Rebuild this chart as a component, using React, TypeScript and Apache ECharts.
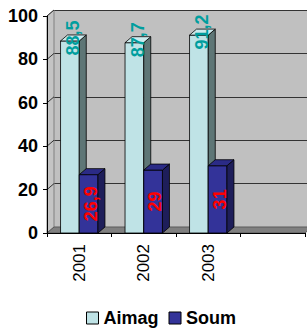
import React, { useEffect, useRef } from "react";
import * as echarts from "echarts";

const categories = ["2001", "2002", "2003", ""];
const aimagValues = [88.5, 87.7, 91.2];
const soumValues = [26.9, 29, 31];
const yTicks = [0, 20, 40, 60, 80, 100];

const FONT = "'Liberation Sans', Arial, Helvetica, sans-serif";
const DX = 7;
const DY = -6;

const AIMAG = { front: "#BFE3E6", side: "#5E7676", top: "#CDEBEE", label: "#009E9E" };
const SOUM = { front: "#333399", side: "#1E1E5A", top: "#2B2B86", label: "#FF0000" };

function fmt(v: number) {
  return String(v).replace(".", ",");
}

function barRenderer(kind: "a" | "s") {
  const c = kind === "a" ? AIMAG : SOUM;
  return (params: any, api: any) => {
    const i = api.value(0);
    const v = api.value(1);
    const top = api.coord([i, v]);
    const base = api.coord([i, 0]);
    const band = api.size([1, 0])[0];
    const bw = band * 0.29;
    const x0 = kind === "a" ? top[0] - bw : top[0];
    const x1 = x0 + bw;
    const yT = top[1];
    const yB = base[1];
    const stroke = { stroke: "#000", lineWidth: 0.8 };
    const children: any[] = [
      {
        type: "polygon",
        shape: { points: [[x0, yB], [x1, yB], [x1, yT], [x0, yT]] },
        style: { fill: c.front, ...stroke },
      },
      {
        type: "polygon",
        shape: { points: [[x1, yB], [x1 + DX, yB + DY], [x1 + DX, yT + DY], [x1, yT]] },
        style: { fill: c.side, ...stroke },
      },
      {
        type: "polygon",
        shape: { points: [[x0, yT], [x1, yT], [x1 + DX, yT + DY], [x0 + DX, yT + DY]] },
        style: { fill: c.top, ...stroke },
      },
    ];
    const lx = kind === "a" ? (x0 + x1) / 2 + DX / 2 : (x0 + x1) / 2 + 2;
    const ly = kind === "a" ? yT + DY / 2 : (yT + yB) / 2;
    children.push({
      type: "text",
      x: lx,
      y: ly,
      rotation: Math.PI / 2,
      z2: 10,
      style: {
        text: fmt(v),
        fill: c.label,
        font: `bold 18px ${FONT}`,
        align: "center",
        verticalAlign: "middle",
      },
    });
    return { type: "group", children };
  };
}

function frameRenderer(params: any, api: any) {
  const cs = params.coordSys;
  const x = cs.x, y = cs.y, w = cs.width, h = cs.height;
  const children: any[] = [
    {
      type: "polygon",
      shape: { points: [[x, y + h], [x + DX, y + h + DY], [x + DX, y + DY], [x, y]] },
      style: { fill: "#C4C4C4", stroke: "#808080", lineWidth: 1 },
    },
    {
      type: "polygon",
      shape: { points: [[x, y + h], [x + w, y + h], [x + w + DX, y + h + DY], [x + DX, y + h + DY]] },
      style: { fill: "#808080", stroke: "#5A5A5A", lineWidth: 1 },
    },
  ];
  yTicks.forEach((t) => {
    const py = api.coord([0, t])[1];
    if (t > 0) {
      children.push({
        type: "line",
        shape: { x1: x, y1: py, x2: x + DX, y2: py + DY },
        style: { stroke: "#333", lineWidth: 1 },
      });
    }
  });
  return { type: "group", children };
}

export default function App() {
  const ref = useRef<HTMLDivElement>(null);
  useEffect(() => {
    if (!ref.current) return;
    const chart = echarts.init(ref.current, null, { renderer: "svg" });
    chart.setOption({
      animation: false,
      backgroundColor: "#FFFFFF",
      textStyle: { fontFamily: FONT },
      grid: [
        { left: 47, right: 2, top: 16, bottom: 95, containLabel: false },
        {
          left: 47 + DX,
          right: 0,
          top: 16 + DY,
          bottom: 95 - DY,
          show: true,
          backgroundColor: "#C0C0C0",
          borderWidth: 0,
          z: 0,
        },
      ],
      xAxis: [
        {
          type: "category",
          gridIndex: 0,
          data: categories,
          axisLine: { show: true, lineStyle: { color: "#000", width: 1 } },
          axisTick: { show: true, length: 4, lineStyle: { color: "#000" } },
          axisLabel: {
            rotate: 90,
            margin: 11,
            fontSize: 17,
            color: "#000",
            fontFamily: FONT,
          },
          z: 5,
        },
        {
          type: "category",
          gridIndex: 1,
          data: categories,
          show: false,
        },
      ],
      yAxis: [
        {
          type: "value",
          gridIndex: 0,
          min: 0,
          max: 100,
          interval: 20,
          axisLine: { show: true, lineStyle: { color: "#000", width: 1 } },
          axisTick: { show: true, length: 4, lineStyle: { color: "#000" } },
          axisLabel: {
            margin: 9,
            fontSize: 18,
            fontWeight: "bold",
            color: "#000",
            fontFamily: FONT,
          },
          splitLine: { show: false },
          z: 5,
        },
        {
          type: "value",
          gridIndex: 1,
          min: 0,
          max: 100,
          interval: 20,
          axisLine: { show: false },
          axisTick: { show: false },
          axisLabel: { show: false },
          splitLine: { show: true, lineStyle: { color: "#333333", width: 1 } },
        },
      ],
      legend: {
        left: 81,
        top: 304,
        itemWidth: 12,
        itemHeight: 12,
        itemGap: 10,
        icon: "rect",
        textStyle: { fontSize: 18, fontWeight: "bold", color: "#000", fontFamily: FONT },
        data: [
          { name: "Aimag", itemStyle: { color: AIMAG.front, borderColor: "#000", borderWidth: 1 } },
          { name: "Soum", itemStyle: { color: SOUM.front, borderColor: "#000", borderWidth: 1 } },
        ],
      },
      series: [
        {
          type: "custom",
          name: "frame",
          xAxisIndex: 0,
          yAxisIndex: 0,
          z: 1,
          silent: true,
          renderItem: frameRenderer,
          data: [[0, 0]],
        },
        {
          type: "custom",
          name: "Aimag",
          xAxisIndex: 0,
          yAxisIndex: 0,
          z: 3,
          itemStyle: { color: AIMAG.front },
          renderItem: barRenderer("a"),
          data: aimagValues.map((v, i) => [i, v]),
        },
        {
          type: "custom",
          name: "Soum",
          xAxisIndex: 0,
          yAxisIndex: 0,
          z: 4,
          itemStyle: { color: SOUM.front },
          renderItem: barRenderer("s"),
          data: soumValues.map((v, i) => [i, v]),
        },
      ],
    });
    return () => chart.dispose();
  }, []);
  return (
    <div
      ref={ref}
      style={{ position: "fixed", left: 0, top: 0, width: 307, height: 328 }}
    />
  );
}
